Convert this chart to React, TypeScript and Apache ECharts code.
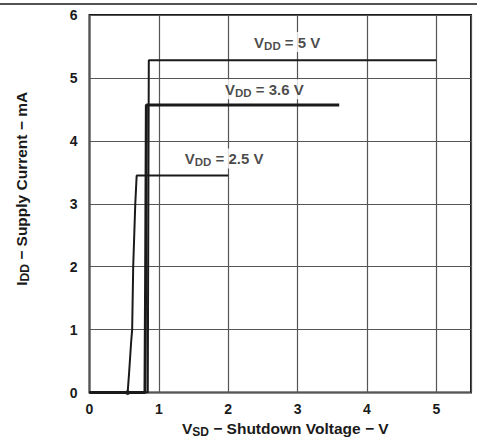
import React, { useEffect, useRef } from "react";
import * as echarts from "echarts";

const xTicks = [0, 1, 2, 3, 4, 5];
const vdd5: number[][] = [[0, 0], [0.84, 0], [0.855, 5.28], [5.0, 5.28]];
const vdd36: number[][] = [[0, 0], [0.8, 0], [0.81, 2.0], [0.82, 4.57], [3.6, 4.57]];
const vdd25: number[][] = [
  [0, 0], [0.55, 0], [0.57, 0.3], [0.6, 0.8], [0.615, 1.0], [0.63, 2.0],
  [0.66, 3.0], [0.68, 3.45], [2.0, 3.45],
];
const labelNames = ["5 V", "3.6 V", "2.5 V"];
const labelPos: number[][] = [[2.85, 5.57], [2.52, 4.82], [1.94, 3.72]];

const FONT = "Liberation Sans, Arial, sans-serif";
const INK = "#1a1a1a";

export default function App() {
  const ref = useRef<HTMLDivElement>(null);
  useEffect(() => {
    const chart = echarts.init(ref.current!, null, { renderer: "svg" });
    const richTitle = {
      a: { fontFamily: FONT, fontWeight: "bold", fontSize: 15.5, color: INK },
      b: { fontFamily: FONT, fontWeight: "bold", fontSize: 12, color: INK, padding: [7, 0, 0, 0] },
    };
    const richLabel = {
      a: { fontFamily: FONT, fontWeight: "bold", fontSize: 15, color: INK },
      b: { fontFamily: FONT, fontWeight: "bold", fontSize: 11.5, color: INK, padding: [7, 0, 0, 0] },
    };
    const line = (data: number[][], w: number) => ({
      type: "line",
      data,
      showSymbol: false,
      symbol: "none",
      lineStyle: { color: INK, width: w },
      z: 5,
    });
    chart.setOption({
      animation: false,
      backgroundColor: "#fff",
      grid: { left: 89.5, right: 6, top: 15, bottom: 47, show: true, borderColor: INK, borderWidth: 2, backgroundColor: "transparent" },
      xAxis: {
        type: "value",
        min: 0,
        max: 5.5,
        interval: 1,
        axisLine: { show: false },
        axisTick: { show: false },
        splitLine: { show: true, lineStyle: { color: "#555", width: 1.2 } },
        axisLabel: {
          fontFamily: FONT, fontWeight: "bold", fontSize: 14, color: INK, margin: 9,
          formatter: (v: number) => (xTicks.includes(v) ? String(v) : ""),
        },
        name: "{a|V}{b|SD}{a| − Shutdown Voltage − V}",
        nameLocation: "middle",
        nameGap: 23,
        nameTextStyle: { rich: richTitle, padding: [0, 0, 0, 10] },
      },
      yAxis: {
        type: "value",
        min: 0,
        max: 6,
        interval: 1,
        axisLine: { show: false },
        axisTick: { show: false },
        splitLine: { show: true, lineStyle: { color: "#555", width: 1.2 } },
        axisLabel: { fontFamily: FONT, fontWeight: "bold", fontSize: 14, color: INK, margin: 12 },
        name: "{a|I}{b|DD}{a| − Supply Current − mA}",
        nameLocation: "middle",
        nameGap: 59,
        nameTextStyle: { rich: richTitle, padding: [0, 0, 0, 30] },
      },
      series: [
        line(vdd25, 2),
        line(vdd5, 2),
        line(vdd36, 3),
        {
          type: "scatter",
          data: labelPos.map((p, i) => ({ value: p, name: labelNames[i] })),
          symbolSize: 0,
          z: 6,
          label: {
            show: true,
            position: "inside",
            formatter: (p: any) => `{a|V}{b|DD}{a| = ${p.name}}`,
            rich: richLabel,
            backgroundColor: "#fff",
            padding: [1, 2, 0, 2],
          },
        },
        {
          type: "scatter",
          data: [[0.55, 0]],
          symbolSize: 5,
          itemStyle: { color: INK },
          z: 7,
        },
      ],
      graphic: [
        { type: "line", shape: { x1: 0, y1: 4, x2: 477, y2: 4 }, style: { stroke: INK, lineWidth: 1.5 } },
      ],
    });
    return () => chart.dispose();
  }, []);
  return <div ref={ref} style={{ position: "fixed", left: 0, top: 0, width: 477, height: 443, background: "#fff" }} />;
}
